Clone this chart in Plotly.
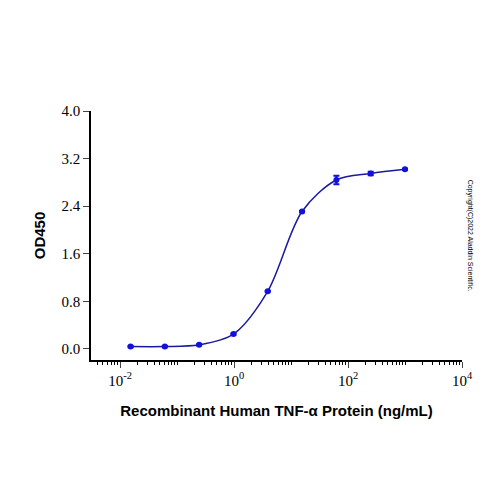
import plotly.graph_objects as go

conc = [0.0153, 0.061, 0.244, 0.977, 3.9, 15.6, 62.5, 250, 1000]
od = [0.04, 0.04, 0.07, 0.25, 0.97, 2.31, 2.84, 2.95, 3.02]
err = [0.01, 0.01, 0.01, 0.01, 0.01, 0.01, 0.07, 0.03, 0.01]

# smooth line through the points
fig = go.Figure()
fig.add_trace(go.Scatter(x=conc, y=od, mode="lines", line=dict(color="#1a1aa0", width=1.5, shape="spline", smoothing=0.9),
                         hoverinfo="skip"))
fig.add_trace(go.Scatter(x=conc, y=od, mode="markers", marker=dict(color="#1010e0", size=6),
                         error_y=dict(type="data", array=err, color="#1010e0", thickness=2, width=3)))

fig.update_layout(
    width=500, height=500, showlegend=False,
    plot_bgcolor="white", paper_bgcolor="white",
    margin=dict(l=83, r=46, t=103, b=148, autoexpand=False),
    font=dict(family="Liberation Serif", size=15, color="black"),
)
fig.update_xaxes(type="log", range=[-2.51, 4], tickvals=[0.01, 1, 100, 10000],
                 ticktext=["10<sup>-2</sup>", "10<sup>0</sup>", "10<sup>2</sup>", "10<sup>4</sup>"],
                 showline=True, linecolor="black", linewidth=1.5, ticks="outside", ticklen=6,
                 minor=dict(ticks="outside", ticklen=3, dtick="D1", tickcolor="black"),
                 showgrid=False, zeroline=False, automargin=False,
                 title=dict(text="<b>Recombinant Human TNF-α Protein (ng/mL)</b>",
                            font=dict(family="Liberation Sans", size=15), standoff=18))
fig.update_yaxes(range=[-0.185, 4.0], tickvals=[0, 0.8, 1.6, 2.4, 3.2, 4.0],
                 tickformat=".1f", showline=True, linecolor="black", linewidth=1.5,
                 ticks="outside", ticklen=6, showgrid=False, zeroline=False, automargin=False,
                 title=dict(text="<b>OD450</b>", font=dict(family="Liberation Sans", size=15), standoff=12))
fig.add_annotation(text="Copyright(C)2022 Aladdin Scientific.", xref="paper", yref="paper",
                   x=1.04, y=0.5, textangle=90, showarrow=False,
                   font=dict(family="Liberation Sans", size=7, color="black"))
fig.write_html("out.html")
